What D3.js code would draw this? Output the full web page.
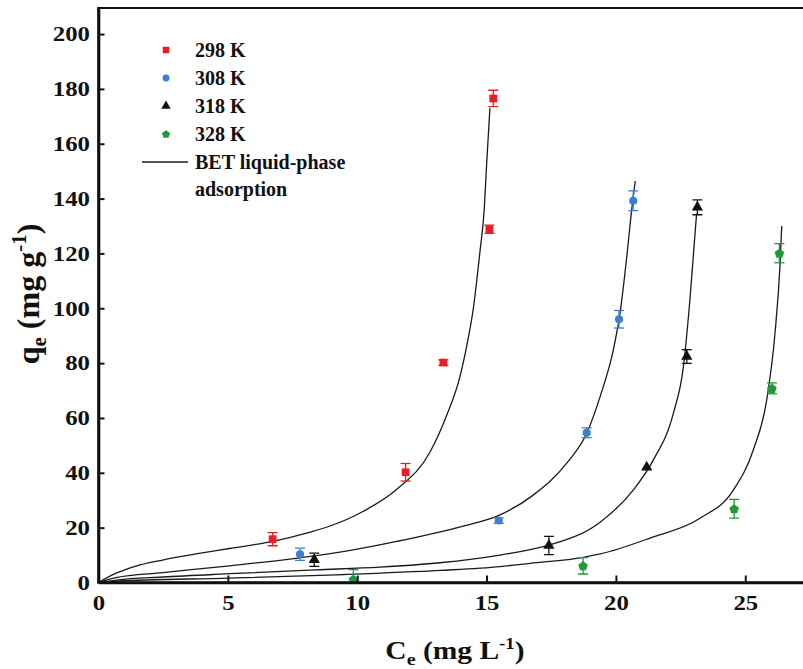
<!DOCTYPE html>
<html>
<head>
<meta charset="utf-8">
<script src="https://cdn.jsdelivr.net/npm/d3@7"></script>
<style>
  html, body { margin: 0; padding: 0; background: #fff; }
  svg { display: block; }
  text { font-family: "Liberation Serif", "Times New Roman", serif; font-weight: bold; fill: #111; }
</style>
</head>
<body>
<svg id="chart" width="803" height="669"></svg>
<script>
// ---------- data ----------
const seriesNames = ["298 K", "308 K", "318 K", "328 K"];
const seriesColors = ["#ec1c24", "#3a7fd3", "#111111", "#1f9a34"];
const seriesSymbols = ["square", "circle", "triangle", "pentagon"];

// measured points: [Ce, qe, error]
const pts298 = [[6.73, 15.8, 2.4], [11.87, 40.2, 3.2], [13.33, 80.2, 1.0], [15.11, 128.8, 1.5], [15.26, 176.5, 3.0]];
const pts308 = [[7.79, 10.3, 2.2], [15.47, 22.6, 1.0], [18.87, 54.6, 1.8], [20.12, 96.0, 3.2], [20.67, 139.2, 3.6]];
const pts318 = [[8.34, 8.3, 2.4], [17.41, 13.5, 3.3], [21.19, 42.0, 0], [22.74, 82.4, 2.5], [23.15, 136.8, 2.7]];
const pts328 = [[9.85, 1.2, 3.5], [18.73, 6.1, 3.0], [24.57, 26.9, 3.4], [26.03, 70.8, 2.0], [26.32, 120.1, 3.5]];

// BET liquid-phase fit curves: [Ce, qe]
const fit298 = [[0, 0], [0.68, 3.4], [1.45, 6.0], [2.48, 8.2], [3.77, 10.4], [5.06, 12.4], [6.73, 15.0], [8.15, 18.3], [8.95, 20.6], [10.24, 26.0], [11.53, 34.0], [12.81, 47.5], [13.46, 61], [13.97, 75], [14.29, 89], [14.49, 100], [14.62, 110], [14.75, 121], [14.91, 136], [15.0, 152], [15.13, 173]];
const fit308 = [[0, 0], [0.68, 1.8], [2.48, 3.6], [5.07, 6.1], [7.63, 8.8], [8.95, 10.5], [11.53, 15.0], [14.1, 20.6], [15.5, 24.6], [16.75, 31.5], [18.1, 43.5], [18.87, 54.4], [19.39, 67.8], [19.9, 84.8], [20.16, 98.2], [20.42, 118.8], [20.61, 135.9], [20.75, 146.4]];
const fit318 = [[0, 0], [0.7, 0.9], [2.48, 2.0], [5.07, 3.2], [8.4, 4.6], [10.88, 5.6], [13.2, 7.2], [15.52, 10.0], [16.68, 12.0], [17.41, 13.6], [19.39, 22.0], [20.67, 33.7], [21.45, 44.7], [22.22, 61.7], [22.61, 78.7], [22.86, 103], [23.06, 127.4], [23.12, 134.5]];
const fit328 = [[0, 0], [0.7, 0.5], [5.07, 1.6], [9.18, 2.8], [13.2, 4.4], [15.52, 5.8], [16.68, 7.0], [18.74, 9.2], [19.39, 10.4], [21.32, 16.2], [23.25, 23.4], [24.54, 33.7], [25.31, 48.3], [25.83, 66.6], [26.15, 90.9], [26.34, 115.2], [26.41, 130]];

const xTicks = [0, 5, 10, 15, 20, 25];
const yTicks = [0, 20, 40, 60, 80, 100, 120, 140, 160, 180, 200];
const legendFitLabel = ["BET liquid-phase", "adsorption"];

// ---------- layout ----------
const svg = d3.select("#chart");
const plotLeft = 98.5, plotBottom = 582.5, plotTop = 8;
const x = d3.scaleLinear().domain([0, 27.5]).range([plotLeft, plotLeft + 27.5 * 25.87]);
const y = d3.scaleLinear().domain([0, 209.5]).range([plotBottom, plotTop]);

svg.append("defs").append("clipPath").attr("id", "plotclip")
  .append("rect").attr("x", plotLeft).attr("y", plotTop).attr("width", 803 - plotLeft).attr("height", plotBottom - plotTop);

const pentagon = {
  draw(ctx, size) {
    const r = Math.sqrt(size / (2.5 * Math.sin(2 * Math.PI / 5)));
    for (let i = 0; i < 5; i++) {
      const a = -Math.PI / 2 + i * 2 * Math.PI / 5;
      const px = r * Math.cos(a), py = r * Math.sin(a) + r * 0.1;
      if (i === 0) ctx.moveTo(px, py); else ctx.lineTo(px, py);
    }
    ctx.closePath();
  }
};
const symTypes = { square: d3.symbolSquare, circle: d3.symbolCircle, triangle: d3.symbolTriangle, pentagon: pentagon };
const symSizes = { square: 60, circle: 52, triangle: 55, pentagon: 60 };

const allPts = [pts298, pts308, pts318, pts328];
const allFits = [fit298, fit308, fit318, fit328];

// fit lines
const line = d3.line().x(d => x(d[0])).y(d => y(d[1])).curve(d3.curveMonotoneX);
svg.append("g").selectAll("path").data(allFits).join("path")
  .attr("d", line).attr("fill", "none").attr("stroke", "#1a1a1a").attr("stroke-width", 1.3);

// error bars + markers
allPts.forEach((pts, si) => {
  const col = seriesColors[si];
  const g = svg.append("g");
  const eb = g.append("g").attr("clip-path", "url(#plotclip)");
  pts.filter(d => d[2] > 0).forEach(d => {
    const cx = x(d[0]), y1 = y(d[1] + d[2]), y2 = y(d[1] - d[2]);
    eb.append("line").attr("x1", cx).attr("x2", cx).attr("y1", y1).attr("y2", y2).attr("stroke", col).attr("stroke-width", 1.3);
    eb.append("line").attr("x1", cx - 5).attr("x2", cx + 5).attr("y1", y1).attr("y2", y1).attr("stroke", col).attr("stroke-width", 1.3);
    eb.append("line").attr("x1", cx - 5).attr("x2", cx + 5).attr("y1", y2).attr("y2", y2).attr("stroke", col).attr("stroke-width", 1.3);
  });
  const sym = seriesSymbols[si];
  g.selectAll("path.m").data(pts).join("path").attr("class", "m")
    .attr("transform", d => `translate(${x(d[0])},${y(d[1])})`)
    .attr("d", d3.symbol().type(symTypes[sym]).size(symSizes[sym]))
    .attr("fill", col);
});

// axes
const sx = 1.18;
const xAxis = d3.axisBottom(x).tickValues(xTicks).tickSizeInner(-7).tickSizeOuter(0).tickPadding(13).tickFormat(d3.format("d"));
const gx = svg.append("g").attr("transform", `translate(0,${plotBottom})`).call(xAxis);
gx.select(".domain").attr("stroke", "#111").attr("stroke-width", 2.6);
gx.selectAll(".tick line").attr("stroke", "#111").attr("stroke-width", 2);
gx.selectAll(".tick").filter(d => d === 0).select("line").remove();
gx.selectAll(".tick text").attr("font-size", 21).attr("font-family", "Liberation Serif").attr("font-weight", "bold")
  .attr("fill", "#111").attr("transform", `scale(${sx},1)`);

const yAxis = d3.axisLeft(y).tickValues(yTicks).tickSizeInner(-6).tickSizeOuter(0).tickPadding(8.5).tickFormat(d3.format("d"));
const gy = svg.append("g").attr("transform", `translate(${plotLeft},0)`).call(yAxis);
gy.select(".domain").attr("stroke", "#111").attr("stroke-width", 2.6);
gy.selectAll(".tick line").attr("stroke", "#111").attr("stroke-width", 2);
gy.selectAll(".tick").filter(d => d === 0).select("line").remove();
gy.selectAll(".tick text").attr("font-size", 21).attr("font-family", "Liberation Serif").attr("font-weight", "bold")
  .attr("fill", "#111").attr("x", -8.5 / sx).attr("transform", `scale(${sx},1)`);

// frame lines
svg.append("line").attr("x1", plotLeft).attr("x2", plotLeft).attr("y1", plotTop).attr("y2", plotBottom).attr("stroke", "#111").attr("stroke-width", 2.6);
svg.append("line").attr("x1", plotLeft - 1.3).attr("x2", 803).attr("y1", plotTop).attr("y2", plotTop).attr("stroke", "#111").attr("stroke-width", 2.2);
svg.append("line").attr("x1", plotLeft - 1.3).attr("x2", 803).attr("y1", plotBottom).attr("y2", plotBottom).attr("stroke", "#111").attr("stroke-width", 2.6);

// axis titles
const xt = svg.append("text").attr("text-anchor", "middle").attr("font-size", 25)
  .attr("transform", `translate(455,659) scale(1.18,1)`);
xt.append("tspan").text("C");
xt.append("tspan").attr("font-size", 17).attr("dy", 6).text("e");
xt.append("tspan").attr("dy", -6).text(" (mg L");
xt.append("tspan").attr("font-size", 16).attr("dy", -10).text("-1");
xt.append("tspan").attr("dy", 10).text(")");

const yt = svg.append("text").attr("text-anchor", "middle").attr("font-size", 32)
  .attr("transform", `translate(39,294) rotate(-90)`);
yt.append("tspan").text("q");
yt.append("tspan").attr("font-size", 21).attr("dy", 7).text("e");
yt.append("tspan").attr("dy", -7).text(" (mg g");
yt.append("tspan").attr("font-size", 21).attr("dy", -13).text("-1");
yt.append("tspan").attr("dy", 13).text(")");

// legend
const lg = svg.append("g");
const legRows = [50, 78, 106, 134];
seriesNames.forEach((name, i) => {
  const sym = seriesSymbols[i];
  lg.append("path").attr("transform", `translate(166,${legRows[i]})`)
    .attr("d", d3.symbol().type(symTypes[sym]).size(symSizes[sym] * 0.7)).attr("fill", seriesColors[i]);
  lg.append("text").attr("x", 195).attr("y", legRows[i] + 7).attr("font-size", 20).text(name);
});
lg.append("line").attr("x1", 142).attr("x2", 188).attr("y1", 162).attr("y2", 162).attr("stroke", "#1a1a1a").attr("stroke-width", 1.5);
lg.append("text").attr("x", 195).attr("y", 169).attr("font-size", 20).text(legendFitLabel[0]);
lg.append("text").attr("x", 195).attr("y", 196).attr("font-size", 20).text(legendFitLabel[1]);
</script>
</body>
</html>
